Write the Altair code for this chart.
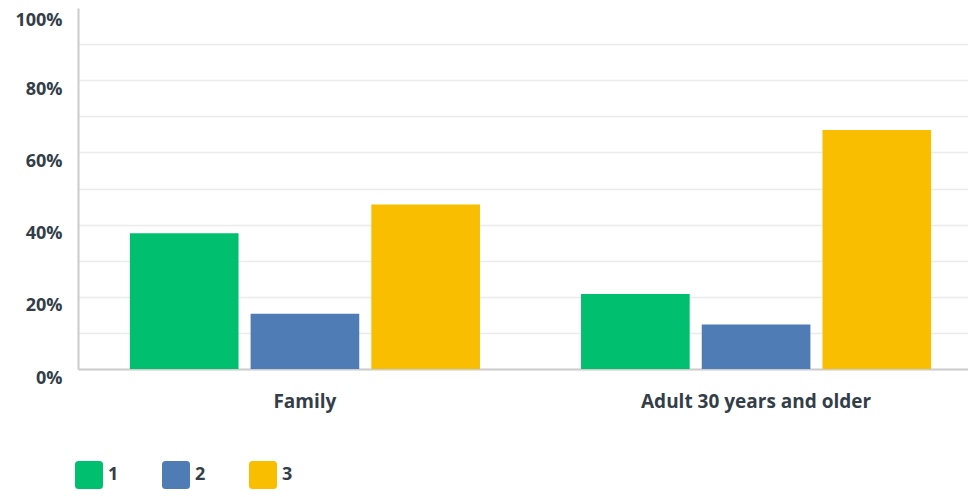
import altair as alt
import pandas as pd

categories = ["Family", "Adult 30 years and older"]
series = ["1", "2", "3"]
values_1 = [37.6, 20.8]
values_2 = [15.3, 12.3]
values_3 = [45.6, 66.2]
y_ticks = [0, 10, 20, 30, 40, 50, 60, 70, 80, 90, 100]

rows = []
for i, c in enumerate(categories):
    for s, vals in zip(series, [values_1, values_2, values_3]):
        rows.append({"category": c, "series": s, "value": vals[i]})
df = pd.DataFrame(rows)

colors = ["#00BF6F", "#507CB6", "#F9BE00"]
text_color = "#333E48"
font = "Open Sans"
rounded = "M-0.75,-1H0.75Q1,-1,1,-0.75V0.75Q1,1,0.75,1H-0.75Q-1,1,-1,0.75V-0.75Q-1,-1,-0.75,-1Z"

chart = alt.Chart(df).mark_bar().encode(
    x=alt.X("category:N", sort=categories, title=None,
            scale=alt.Scale(range=[0, 905], paddingInner=0.224, paddingOuter=0.115),
            axis=alt.Axis(labelAngle=0, labelFont=font, labelFontSize=19, labelFontWeight="bold",
                          labelColor=text_color, labelPadding=23, labelLimit=0, ticks=False,
                          domainColor="#cccccc", domainWidth=2, grid=False)),
    xOffset=alt.XOffset("series:N", sort=series,
                        scale=alt.Scale(paddingInner=0.1, paddingOuter=0)),
    y=alt.Y("value:Q", title=None, scale=alt.Scale(domain=[0, 100], nice=False),
            axis=alt.Axis(values=y_ticks,
                          labelExpr="datum.value % 20 == 0 ? datum.value + '%' : ''",
                          labelFont=font, labelFontSize=18, labelFontWeight="bold",
                          labelColor=text_color, labelPadding=16,
                          labelOffset={"condition": {"test": "datum.value === 100", "value": 12}, "value": 9},
                          ticks=False, domainColor="#cccccc", domainWidth=2,
                          gridColor="#ebebeb", gridWidth=1.5,
                          gridOpacity={"condition": {"test": "datum.value === 100", "value": 0}, "value": 1})),
    color=alt.Color("series:N", scale=alt.Scale(domain=series, range=colors),
                    legend=alt.Legend(title=None, orient="none", legendX=-3, legendY=453,
                                      direction="horizontal", symbolType=rounded,
                                      symbolSize=784, symbolStrokeWidth=0, symbolOpacity=1,
                                      labelFont=font, labelFontSize=18, labelFontWeight="bold",
                                      labelColor=text_color, labelOffset=5, columnPadding=43))
).properties(
    width=890, height=361,
    autosize=alt.AutoSizeParams(type="none"),
    padding={"left": 70, "top": 0, "right": 0, "bottom": 120},
    background="white"
).configure_view(stroke=None)

chart.save("out.html", embed_options={"renderer": "svg", "actions": False})
